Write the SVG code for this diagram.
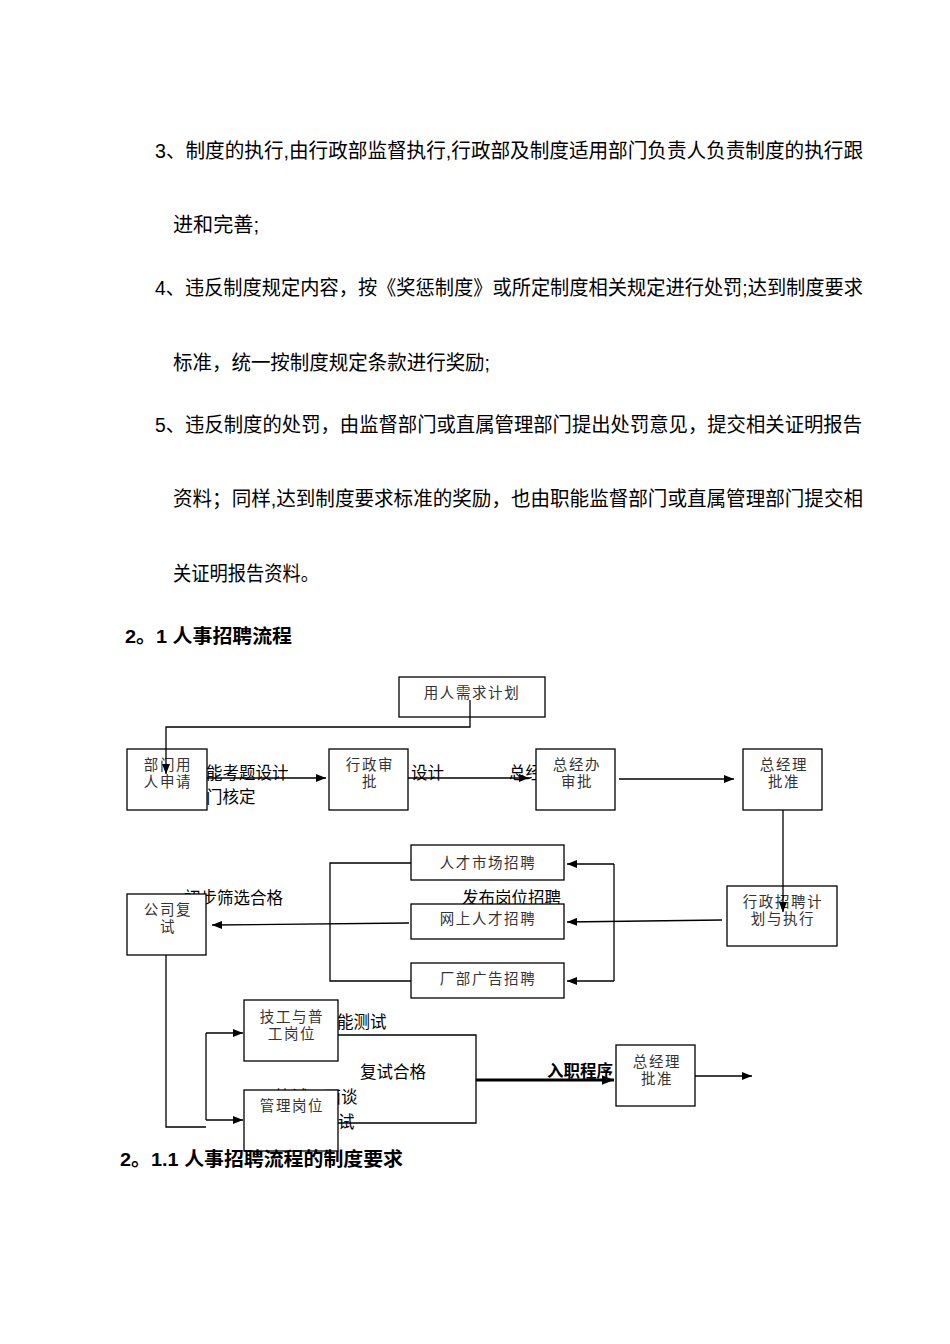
<svg xmlns="http://www.w3.org/2000/svg" width="950" height="1344" viewBox="0 0 950 1344" lang="zh-CN">
<style>
.body{font-family:"Liberation Sans","Noto Sans CJK SC",sans-serif;font-size:20px;fill:#000}
.h{font-family:"Liberation Sans","Noto Sans CJK SC",sans-serif;font-size:19px;font-weight:bold;fill:#000}
.lbl{font-family:"Liberation Sans","Noto Sans CJK SC",sans-serif;font-size:16.5px;fill:#000}
.lblb{font-family:"Liberation Sans","Noto Sans CJK SC",sans-serif;font-size:16.5px;font-weight:bold;fill:#000}
.box{fill:#fff;stroke:#000;stroke-width:1.3}
.nt{font-family:"Liberation Sans","Noto Sans CJK SC",sans-serif;font-size:14.5px;fill:#333;text-anchor:middle;letter-spacing:1.6px}
.ln{fill:none;stroke:#000;stroke-width:1.3}
.thick{fill:none;stroke:#000;stroke-width:3}
</style>
<defs>
<marker id="ah" viewBox="0 0 10 8" refX="10" refY="4" markerWidth="10" markerHeight="8" markerUnits="userSpaceOnUse" orient="auto">
<path d="M0,0 L10,4 L0,8 z" fill="#000"/>
</marker>
<marker id="ahb" viewBox="0 0 10 8" refX="10" refY="4" markerWidth="12" markerHeight="10" markerUnits="userSpaceOnUse" orient="auto">
<path d="M0,0 L10,4 L0,8 z" fill="#000"/>
</marker>
</defs>
<rect width="950" height="1344" fill="#fff"/>

<g id="text-body">
<text class="body" x="155" y="158" textLength="708" lengthAdjust="spacingAndGlyphs">3、制度的执行,由行政部监督执行,行政部及制度适用部门负责人负责制度的执行跟</text>
<text class="body" x="173" y="232" textLength="86" lengthAdjust="spacingAndGlyphs">进和完善;</text>
<text class="body" x="155" y="295" textLength="708" lengthAdjust="spacingAndGlyphs">4、违反制度规定内容，按《奖惩制度》或所定制度相关规定进行处罚;达到制度要求</text>
<text class="body" x="173" y="370" textLength="317" lengthAdjust="spacingAndGlyphs">标准，统一按制度规定条款进行奖励;</text>
<text class="body" x="155" y="432" textLength="707" lengthAdjust="spacingAndGlyphs">5、违反制度的处罚，由监督部门或直属管理部门提出处罚意见，提交相关证明报告</text>
<text class="body" x="173" y="506" textLength="690" lengthAdjust="spacingAndGlyphs">资料；同样,达到制度要求标准的奖励，也由职能监督部门或直属管理部门提交相</text>
<text class="body" x="173" y="581" textLength="146" lengthAdjust="spacingAndGlyphs">关证明报告资料。</text>
<text class="h" x="125" y="643" textLength="167" lengthAdjust="spacingAndGlyphs">2。1 人事招聘流程</text>
</g>

<g id="labels">
<text class="lbl" x="206" y="779">能考题设计</text>
<text class="lbl" x="206" y="803">门核定</text>
<text class="lbl" x="411" y="779">设计</text>
<text class="lbl" x="509" y="779">总经</text>
<text class="lbl" x="184" y="904">初步筛选合格</text>
<text class="lbl" x="462" y="904">发布岗位招聘</text>
<text class="lbl" x="337" y="1028">能测试</text>
<text class="lbl" x="360" y="1078">复试合格</text>
<text class="lbl" x="275" y="1103">笔试、面谈</text>
<text class="lbl" x="338" y="1128">试</text>
<text class="lblb" x="547" y="1077">入职程序</text>
</g>

<g id="n-plan"><rect class="box" x="399" y="677" width="146" height="40"/><text class="nt" x="472" y="698">用人需求计划</text></g>
<g id="n-dept"><rect class="box" x="127" y="749" width="80" height="61"/><text class="nt" y="770"><tspan x="168">部门用</tspan><tspan x="168" dy="16.5">人申请</tspan></text></g>
<g id="n-admin"><rect class="box" x="329" y="749" width="79" height="61"/><text class="nt" y="770"><tspan x="370">行政审</tspan><tspan x="370" dy="16.5">批</tspan></text></g>
<g id="n-gmo"><rect class="box" x="536" y="749" width="79" height="61"/><text class="nt" y="770"><tspan x="577">总经办</tspan><tspan x="577" dy="16.5">审批</tspan></text></g>
<g id="n-gm1"><rect class="box" x="743" y="749" width="79" height="61"/><text class="nt" y="770"><tspan x="784">总经理</tspan><tspan x="784" dy="16.5">批准</tspan></text></g>
<g id="n-market"><rect class="box" x="411" y="845" width="153" height="35"/><text class="nt" x="488" y="868">人才市场招聘</text></g>
<g id="n-online"><rect class="box" x="411" y="904" width="153" height="35"/><text class="nt" x="488" y="924">网上人才招聘</text></g>
<g id="n-ad"><rect class="box" x="411" y="963" width="153" height="35"/><text class="nt" x="488" y="984">厂部广告招聘</text></g>
<g id="n-exec"><rect class="box" x="727" y="886" width="110" height="60"/><text class="nt" y="907"><tspan x="783">行政招聘计</tspan><tspan x="783" dy="16.5">划与执行</tspan></text></g>
<g id="n-retest"><rect class="box" x="127" y="894" width="79" height="61"/><text class="nt" y="915"><tspan x="168">公司复</tspan><tspan x="168" dy="16.5">试</tspan></text></g>
<g id="n-tech"><rect class="box" x="244" y="1000" width="94" height="61"/><text class="nt" y="1022"><tspan x="292">技工与普</tspan><tspan x="292" dy="16.5">工岗位</tspan></text></g>
<g id="n-mgmt"><rect class="box" x="244" y="1090" width="94" height="61"/><text class="nt" x="292" y="1111">管理岗位</text></g>
<g id="n-gm2"><rect class="box" x="616" y="1045" width="79" height="61"/><text class="nt" y="1067"><tspan x="657">总经理</tspan><tspan x="657" dy="16.5">批准</tspan></text></g>

<g id="connectors">
<polyline class="ln" points="470,700 470,727 166,727 166,774" marker-end="url(#ah)"/>
<line class="ln" x1="207" y1="778" x2="326" y2="778" marker-end="url(#ah)"/>
<line class="ln" x1="408" y1="778" x2="529" y2="778" marker-end="url(#ah)"/>
<line class="ln" x1="619" y1="779" x2="734" y2="779" marker-end="url(#ah)"/>
<line class="ln" x1="783" y1="810" x2="783" y2="912" marker-end="url(#ah)"/>
<line class="ln" x1="722" y1="920" x2="567" y2="922" marker-end="url(#ah)"/>
<polyline class="ln" points="614,864 614,981"/>
<line class="ln" x1="614" y1="864" x2="567" y2="864" marker-end="url(#ah)"/>
<line class="ln" x1="614" y1="981" x2="567" y2="981" marker-end="url(#ah)"/>
<polyline class="ln" points="411,863 330,863 330,981 411,981"/>
<line class="ln" x1="409" y1="923" x2="212" y2="925" marker-end="url(#ah)"/>
<polyline class="ln" points="166,955 166,1127 206,1127"/>
<polyline class="ln" points="206,1120 206,1033"/>
<line class="ln" x1="206" y1="1033" x2="243" y2="1033" marker-end="url(#ah)"/>
<line class="ln" x1="206" y1="1120" x2="243" y2="1120" marker-end="url(#ah)"/>
<polyline class="ln" points="338,1035 476,1035 476,1123 338,1123"/>
<line class="thick" x1="476" y1="1080" x2="614" y2="1080" marker-end="url(#ahb)"/>
<line class="ln" x1="695" y1="1076" x2="752" y2="1076" marker-end="url(#ah)"/>
</g>

<g id="text-foot">
<text class="h" x="120" y="1166" textLength="283" lengthAdjust="spacingAndGlyphs">2。1.1 人事招聘流程的制度要求</text>
</g>
</svg>
